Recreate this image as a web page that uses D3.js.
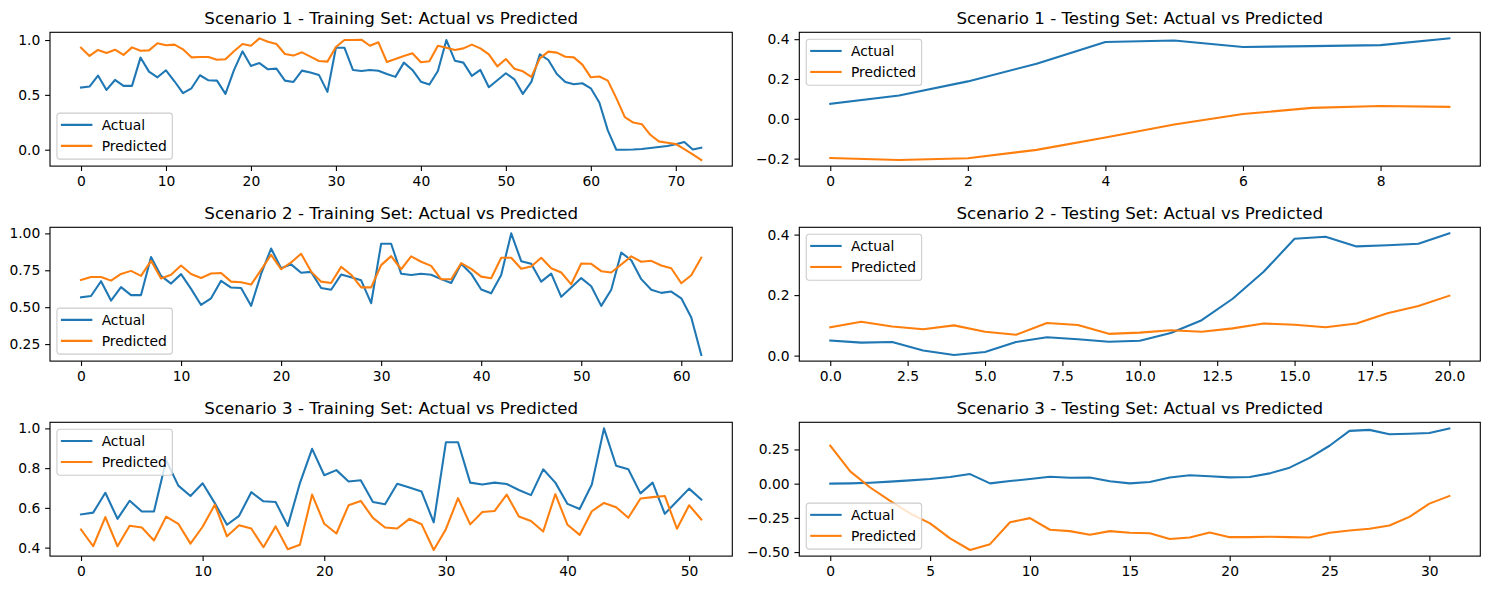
<!DOCTYPE html>
<html>
<head>
<meta charset="utf-8">
<script src="https://cdn.jsdelivr.net/npm/d3@7"></script>
<style>
  body { margin: 0; background: #fff; }
  text { font-family: "DejaVu Sans", sans-serif; fill: #000; }
</style>
</head>
<body>
<svg id="chart" width="1489" height="590"></svg>
<script>
// ---- data ----
var trainActual = [0.567,0.576,0.676,0.545,0.636,0.582,0.582,0.840,0.712,0.660,
  0.724,0.624,0.515,0.560,0.679,0.633,0.630,0.509,0.725,0.897,
  0.764,0.790,0.733,0.739,0.630,0.618,0.721,0.703,0.682,0.527,
  0.930,0.930,0.727,0.718,0.727,0.720,0.690,0.664,0.794,0.727,
  0.620,0.594,0.718,1.000,0.812,0.794,0.673,0.727,0.570,0.633,
  0.697,0.642,0.509,0.618,0.870,0.818,0.690,0.618,0.597,0.606,
  0.560,0.430,0.176,0.000,0.000,0.002,0.007,0.015,0.024,0.034,
  0.049,0.070,0.002,0.019];

var trainPred1 = [0.930,0.855,0.910,0.882,0.912,0.864,0.933,0.903,0.906,0.970,
  0.952,0.958,0.915,0.842,0.845,0.845,0.820,0.824,0.897,0.964,
  0.948,1.015,0.985,0.964,0.873,0.858,0.888,0.848,0.809,0.803,
  0.936,1.000,1.000,1.003,0.948,0.979,0.800,0.827,0.855,0.879,
  0.797,0.806,0.948,0.930,0.909,0.924,0.958,0.924,0.870,0.760,
  0.827,0.739,0.715,0.664,0.833,0.894,0.885,0.848,0.842,0.776,
  0.660,0.667,0.630,0.470,0.297,0.248,0.233,0.136,0.076,0.064,
  0.052,0.006,-0.042,-0.094];

var trainPred2 = [0.685,0.705,0.705,0.680,0.725,0.746,0.712,0.814,0.695,0.720,
  0.782,0.725,0.698,0.728,0.732,0.673,0.669,0.653,0.753,0.855,
  0.757,0.803,0.862,0.741,0.673,0.664,0.773,0.720,0.634,0.634,
  0.785,0.846,0.757,0.844,0.808,0.780,0.689,0.689,0.798,0.760,
  0.707,0.696,0.835,0.835,0.760,0.776,0.835,0.764,0.735,0.655,
  0.796,0.794,0.744,0.735,0.789,0.844,0.808,0.814,0.782,0.764,
  0.662,0.716,0.835];

var trainPred3 = [0.491,0.407,0.554,0.407,0.510,0.501,0.436,0.556,0.520,0.420,
  0.505,0.616,0.457,0.513,0.496,0.402,0.507,0.392,0.414,0.667,
  0.520,0.471,0.613,0.635,0.550,0.501,0.496,0.545,0.518,0.388,
  0.493,0.649,0.517,0.579,0.584,0.667,0.557,0.534,0.481,0.669,
  0.515,0.464,0.583,0.625,0.603,0.550,0.647,0.654,0.660,0.495,
  0.613,0.542];

var testActual = [0.000,0.002,0.007,0.015,0.024,0.034,0.049,0.070,0.002,0.019,
  0.034,0.050,0.043,0.045,0.017,0.002,0.012,0.045,0.061,0.054,
  0.046,0.049,0.075,0.117,0.188,0.277,0.386,0.393,0.361,0.365,
  0.370,0.404];

var testPred1 = [-0.197,-0.207,-0.198,-0.156,-0.094,-0.029,0.024,0.055,0.064,0.060];

var testPred2 = [0.094,0.112,0.096,0.087,0.100,0.079,0.069,0.108,0.101,0.072,
  0.076,0.084,0.079,0.090,0.106,0.102,0.094,0.106,0.140,0.164,0.198];

var testPred3 = [0.277,0.090,-0.028,-0.126,-0.218,-0.290,-0.400,-0.485,-0.442,-0.282,
  -0.252,-0.337,-0.347,-0.374,-0.347,-0.359,-0.362,-0.405,-0.393,-0.357,
  -0.391,-0.391,-0.388,-0.391,-0.393,-0.359,-0.342,-0.330,-0.306,-0.243,
  -0.146,-0.090];

var titles = [
  "Scenario 1 - Training Set: Actual vs Predicted",
  "Scenario 1 - Testing Set: Actual vs Predicted",
  "Scenario 2 - Training Set: Actual vs Predicted",
  "Scenario 2 - Testing Set: Actual vs Predicted",
  "Scenario 3 - Training Set: Actual vs Predicted",
  "Scenario 3 - Testing Set: Actual vs Predicted"
];
var xTicks = [
  [0,10,20,30,40,50,60,70], [0,2,4,6,8],
  [0,10,20,30,40,50,60], [0,2.5,5,7.5,10,12.5,15,17.5,20],
  [0,10,20,30,40,50], [0,5,10,15,20,25,30]
];
var yTicks = [
  [0,0.5,1.0], [-0.2,0,0.2,0.4],
  [0.25,0.5,0.75,1.0], [0,0.2,0.4],
  [0.4,0.6,0.8,1.0], [-0.5,-0.25,0,0.25]
];
var xFormats = ["d","d","d",".1f","d","d"];
var yFormats = [".1f",".1f",".2f",".1f",".1f",".2f"];
var legendSpots = ["lower","upper","lower","upper","upper","lower"];
var seriesNames = ["Actual", "Predicted"];

var actuals = [trainActual, testActual.slice(22), trainActual.slice(0,63),
  testActual.slice(11), trainActual.slice(0,52), testActual];
var preds = [trainPred1, testPred1, trainPred2, testPred2, trainPred3, testPred3];

// ---- layout ----
var colors = ["#1f77b4", "#ff7f0e"];
var fs = 13.89;
var colX = [[50, 732.3], [799.3, 1480.3]];
var rowTop = [32.3, 227.3, 422.3];
var plotH = 133.8;

var svg = d3.select("#chart");
svg.append("rect").attr("width", 1489).attr("height", 590).attr("fill", "#fff");

function padded(ext) {
  var r = ext[1] - ext[0];
  return [ext[0] - 0.05 * r, ext[1] + 0.05 * r];
}

for (var p = 0; p < 6; p++) {
  var col = p % 2, row = Math.floor(p / 2);
  var x0 = colX[col][0], x1 = colX[col][1];
  var y0 = rowTop[row], y1 = rowTop[row] + plotH;
  var act = actuals[p], pr = preds[p];

  var x = d3.scaleLinear().domain(padded([0, act.length - 1])).range([x0, x1]);
  var y = d3.scaleLinear().domain(padded(d3.extent(act.concat(pr)))).range([y1, y0]);

  var g = svg.append("g");

  g.append("clipPath").attr("id", "clip" + p)
    .append("rect").attr("x", x0).attr("y", y0).attr("width", x1 - x0).attr("height", y1 - y0);

  var line = d3.line().x(function(d, i) { return x(i); }).y(function(d) { return y(d); });

  [act, pr].forEach(function(s, k) {
    g.append("path").datum(s)
      .attr("clip-path", "url(#clip" + p + ")")
      .attr("d", line)
      .attr("fill", "none")
      .attr("stroke", colors[k])
      .attr("stroke-width", 2.08)
      .attr("stroke-linejoin", "round")
      .attr("stroke-linecap", "square");
  });

  var xa = g.append("g").attr("transform", "translate(0," + y1 + ")")
    .call(d3.axisBottom(x).tickValues(xTicks[p]).tickFormat(d3.format(xFormats[p]))
      .tickSize(4.86).tickPadding(4.86));
  var ya = g.append("g").attr("transform", "translate(" + x0 + ",0)")
    .call(d3.axisLeft(y).tickValues(yTicks[p]).tickFormat(d3.format(yFormats[p]))
      .tickSize(4.86).tickPadding(4.86));
  [xa, ya].forEach(function(a) {
    a.select(".domain").remove();
    a.selectAll("line").attr("stroke", "#000").attr("stroke-width", 1.1);
    a.selectAll("text").style("font-size", fs + "px").style("font-family", "DejaVu Sans");
  });

  g.append("rect").attr("x", x0).attr("y", y0)
    .attr("width", x1 - x0).attr("height", y1 - y0)
    .attr("fill", "none").attr("stroke", "#000").attr("stroke-width", 1.1);

  g.append("text").attr("x", (x0 + x1) / 2).attr("y", y0 - 8.33)
    .attr("text-anchor", "middle").style("font-size", "16.67px")
    .text(titles[p]);

  // legend
  var lh = 46;
  var bx = x0 + 6.94;
  var by = legendSpots[p] === "upper" ? y0 + 6.94 : y1 - 6.94 - lh;
  var lg = g.append("g").attr("transform", "translate(" + bx + "," + by + ")");
  var frame = lg.append("rect").attr("rx", 2.8).attr("ry", 2.8).attr("height", lh)
    .attr("fill", "#fff").attr("fill-opacity", 0.8)
    .attr("stroke", "#cccccc").attr("stroke-width", 1.1);
  var tw = 0;
  seriesNames.forEach(function(name, k) {
    var ly = 11.7 + k * 21;
    lg.append("line").attr("x1", 5).attr("x2", 34.4).attr("y1", ly).attr("y2", ly)
      .attr("stroke", colors[k]).attr("stroke-width", 2.08).attr("stroke-linecap", "square");
    var t = lg.append("text").attr("x", 44.7).attr("y", ly).attr("dy", "0.36em")
      .style("font-size", fs + "px").text(name);
    tw = Math.max(tw, t.node().getComputedTextLength());
  });
  frame.attr("width", 44.7 + tw + 5.56);
}
</script>
</body>
</html>
